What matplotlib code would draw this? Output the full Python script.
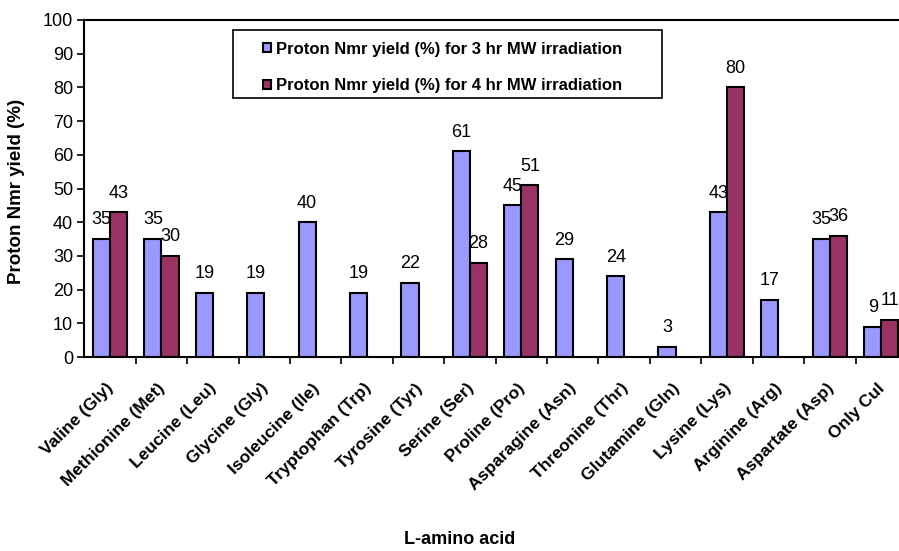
import numpy as np
import matplotlib
matplotlib.use("Agg")
import matplotlib.pyplot as plt
from matplotlib.patches import Rectangle
from matplotlib.transforms import ScaledTranslation

categories = ["Valine (Gly)", "Methionine (Met)", "Leucine (Leu)", "Glycine (Gly)",
              "Isoleucine (Ile)", "Tryptophan (Trp)", "Tyrosine (Tyr)", "Serine (Ser)",
              "Proline (Pro)", "Asparagine (Asn)", "Threonine (Thr)", "Glutamine (Gln)",
              "Lysine (Lys)", "Arginine (Arg)", "Aspartate (Asp)", "Only CuI"]
yield_3hr = [35, 35, 19, 19, 40, 19, 22, 61, 45, 29, 24, 3, 43, 17, 35, 9]
yield_4hr = [43, 30, None, None, None, None, None, 28, 51, None, None, None, 80, None, 36, 11]
series_names = ["Proton Nmr yield (%) for 3 hr MW irradiation",
                "Proton Nmr yield (%) for 4 hr MW irradiation"]

plt.rcParams['font.family'] = ['Liberation Sans', 'DejaVu Sans']

W, H = 899, 551
fig = plt.figure(figsize=(W / 100, H / 100), dpi=100)
left, right, top, bottom = 84.3, 907.0, 20.0, 357.0
ax = fig.add_axes([left / W, 1 - bottom / H, (right - left) / W, (bottom - top) / H])

x = np.arange(len(categories))
bw = 1 / 3
v1 = np.array(yield_3hr, dtype=float)
v2 = np.array([np.nan if v is None else v for v in yield_4hr], dtype=float)

b1 = ax.bar(x - bw / 2, v1, bw, color="#9999FF", edgecolor="black", linewidth=1.5,
            label=series_names[0])
b2 = ax.bar(x + bw / 2, np.nan_to_num(v2), bw, color="#993366", edgecolor="black",
            linewidth=1.5, label=series_names[1])
for i, v in enumerate(v2):
    if np.isnan(v):
        b2[i].set_visible(False)

for xi, v in zip(x, v1):
    ax.annotate(f"{int(v)}", (xi - bw / 2, v), xytext=(0, 10.5), textcoords="offset points",
                ha="center", va="baseline", fontsize=13)
for xi, v in zip(x, v2):
    if not np.isnan(v):
        ax.annotate(f"{int(v)}", (xi + bw / 2, v), xytext=(0, 10.5), textcoords="offset points",
                    ha="center", va="baseline", fontsize=13)

ax.set_xlim(-0.5, len(categories) - 0.5)
ax.set_ylim(0, 100)
ax.set_yticks(np.arange(0, 101, 10))
ax.tick_params(axis="y", labelsize=13, direction="out", length=5, width=1.2, pad=3)
ax.set_xticks(x)
ax.set_xticklabels(categories, rotation=45, ha="right", rotation_mode="anchor",
                   fontsize=12.5, fontweight="bold")
ax.tick_params(axis="x", length=0, pad=17)
shift = ScaledTranslation(-4 / 100, 0, fig.dpi_scale_trans)
for lab in ax.get_xticklabels():
    lab.set_transform(lab.get_transform() + shift)
ax.set_xticks(np.arange(0.5, len(categories) - 0.5, 1), minor=True)
ax.tick_params(axis="x", which="minor", length=5, width=1.2, direction="out")

for s in ["left", "bottom", "top"]:
    ax.spines[s].set_linewidth(1.5)
ax.spines["right"].set_visible(False)

fig.text(17 / W, 1 - 191 / H, "Proton Nmr yield (%)", rotation=90, ha="center", va="center",
         fontsize=13.5, fontweight="bold")
fig.text(460 / W, 1 - 540 / H, "L-amino acid", ha="center", va="center",
         fontsize=13, fontweight="bold")

# legend box
bx0, by0, bx1, by1 = 233, 30, 662, 98
fig.patches.append(Rectangle((bx0 / W, 1 - by1 / H), (bx1 - bx0) / W, (by1 - by0) / H,
                             transform=fig.transFigure, facecolor="white", edgecolor="black",
                             linewidth=1.2, zorder=5))
leg = fig.legend(handles=[b1, b2], loc="center",
                 bbox_to_anchor=(((bx0 + bx1) / 2 - 5) / W, 1 - ((by0 + by1) / 2 + 3.5) / H),
                 frameon=False, prop={"weight": "bold", "size": 12},
                 handlelength=0.45, handleheight=0.45, handletextpad=0.3,
                 labelspacing=1.3, borderpad=0, borderaxespad=0)
leg.set_zorder(6)

fig.savefig("out.png", dpi=100)
